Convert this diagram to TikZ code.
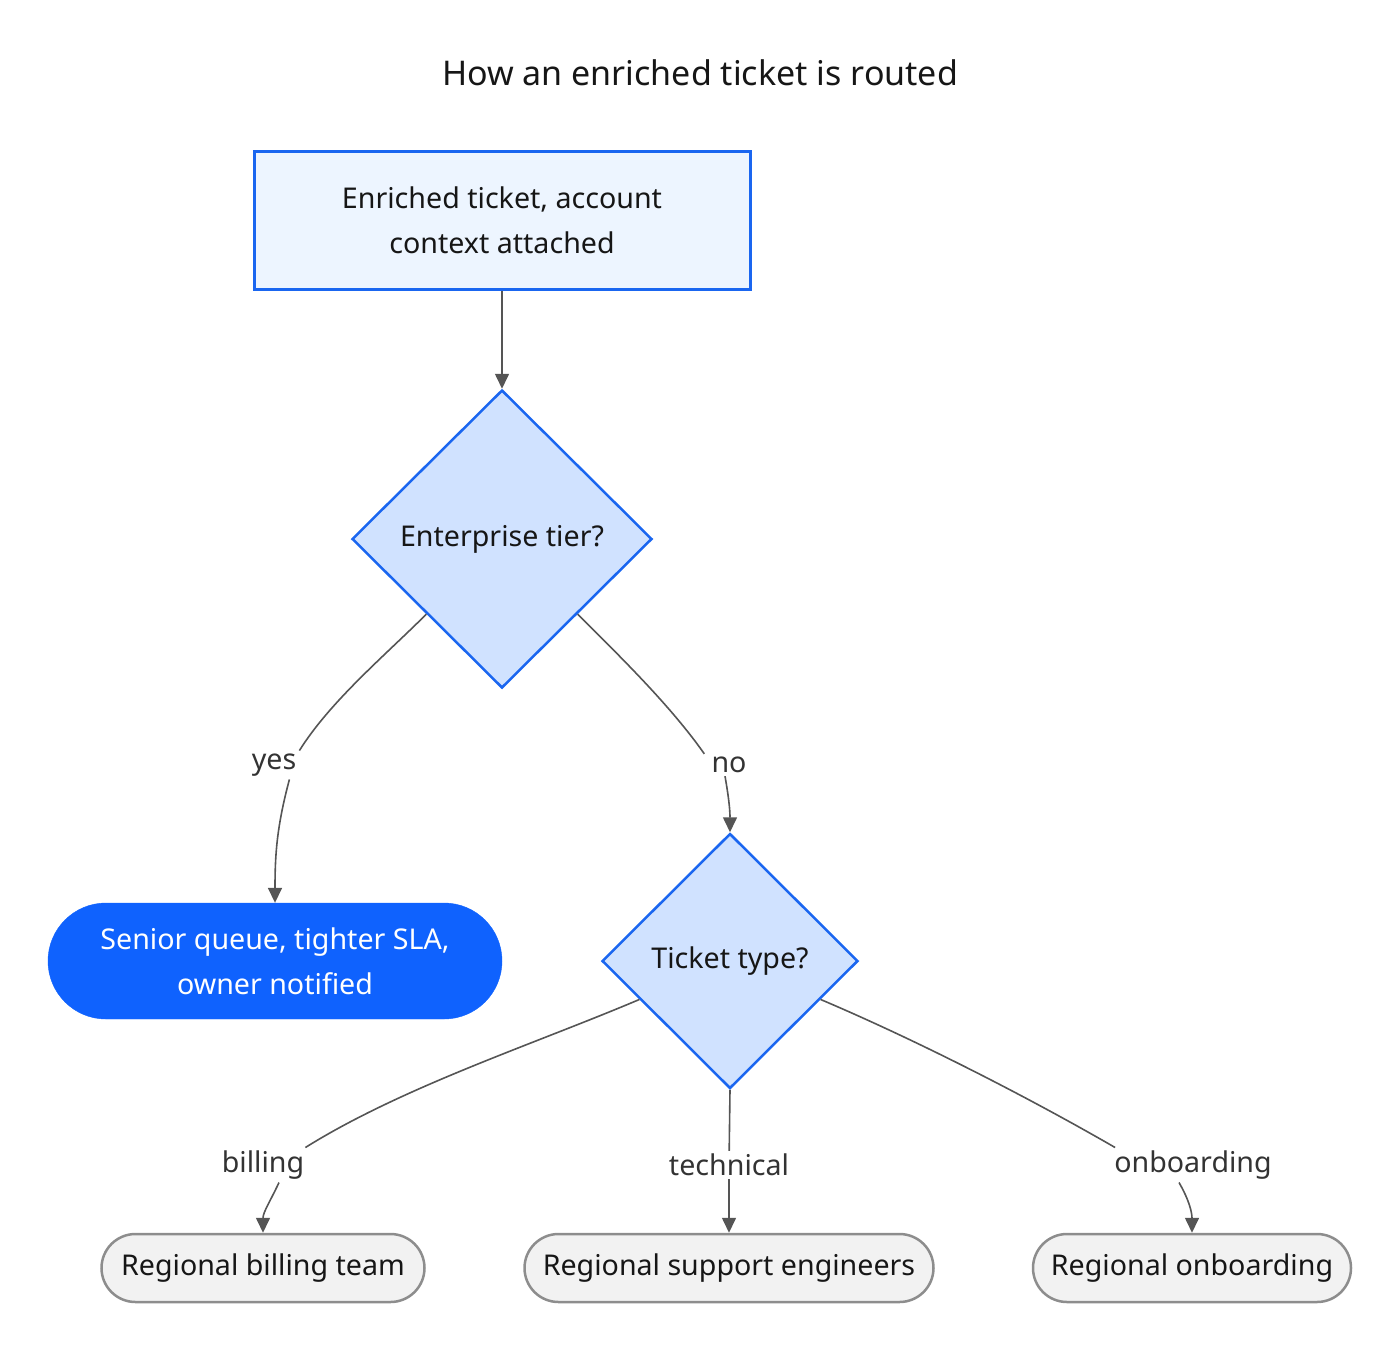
\documentclass[tikz,border=0pt]{standalone}
\usepackage{fontspec}
\setmainfont{Noto Sans}
\usetikzlibrary{shapes.geometric,arrows.meta}
\definecolor{cblue}{HTML}{0F62FE}
\definecolor{cblueline}{HTML}{1A66F0}
\definecolor{cblue10}{HTML}{EDF5FF}
\definecolor{cblue20}{HTML}{D0E2FF}
\definecolor{cgray10}{HTML}{F2F2F2}
\definecolor{cgray50}{HTML}{8D8D8D}
\definecolor{ctext}{HTML}{161616}
\definecolor{cedge}{HTML}{555555}
\definecolor{clabel}{HTML}{333333}
\begin{document}
\begin{tikzpicture}[x=1pt,y=1pt,
  every node/.style={font=\fontsize{28.6}{45}\selectfont, text=ctext, align=center},
  startbox/.style={draw=cblueline, line width=3pt, fill=cblue10, minimum width=496pt, minimum height=138pt, inner sep=0pt},
  decision/.style={diamond, aspect=1, draw=cblueline, line width=2.5pt, fill=cblue20, inner sep=0pt},
  outcome/.style={rounded corners=58pt, fill=cblue, draw=cblue, text=white, minimum width=454pt, minimum height=116pt, inner sep=0pt},
  endpill/.style={rounded corners=34pt, fill=cgray10, draw=cgray50, line width=2.5pt, minimum height=68pt, inner sep=0pt},
  elabel/.style={text=clabel, inner sep=3pt},
  edge/.style={draw=cedge, line width=1.6pt},
  tip/.style={-{Triangle[length=15pt,width=14pt]}}
]
\useasboundingbox (0,0) rectangle (1400,-1352);
\node[font=\fontsize{34}{40}\selectfont] (title) at (700,-73) {How an enriched ticket is routed};
\node[startbox] (start) at (502,-220) {Enriched ticket, account\\context attached};
\node[decision, minimum width=300pt, minimum height=298pt] (d1) at (502,-539) {Enterprise tier?};
\node[outcome] (senior) at (275,-961) {Senior queue, tighter SLA,\\owner notified};
\node[decision, minimum width=256pt, minimum height=255pt] (d2) at (730,-961) {Ticket type?};
\node[endpill, minimum width=323pt] (billing) at (263,-1268) {Regional billing team};
\node[endpill, minimum width=409pt] (support) at (729,-1268) {Regional support engineers};
\node[endpill, minimum width=318pt] (onboard) at (1192,-1268) {Regional onboarding};

\node[elabel] (lyes) at (274,-765) {yes};
\node[elabel] (lno) at (729,-765) {no};
\node[elabel] (lbill) at (263,-1165) {billing};
\node[elabel] (ltech) at (729,-1165) {technical};
\node[elabel] (lonb) at (1193,-1165) {onboarding};

\draw[edge,tip] (start.south) -- (d1.north);
\draw[edge] (d1.south west) to[out=225,in=58,looseness=0.8] (lyes.north east);
\draw[edge,tip] ([xshift=-10pt]lyes.south east) to[out=-105,in=90] (senior.north);
\draw[edge] (d1.south east) to[out=-45,in=125,looseness=0.8] ([xshift=-4pt]lno.north west);
\draw[edge,tip] ([xshift=-4pt]lno.south) to[out=-80,in=90] (d2.north);
\draw[edge] (d2.203) to[out=203,in=32,looseness=0.8] ([xshift=-2pt]lbill.north east);
\draw[edge,tip] ([xshift=16pt]lbill.south) to[out=-115,in=90] (billing.north);
\draw[edge] (d2.south) -- (ltech);
\draw[edge,tip] (ltech) -- (support.north);
\draw[edge] (d2.-23) to[out=-23,in=150,looseness=0.8] ([xshift=4pt]lonb.north west);
\draw[edge,tip] ([xshift=-14pt]lonb.south) to[out=-60,in=90] (onboard.north);
\end{tikzpicture}
\end{document}
